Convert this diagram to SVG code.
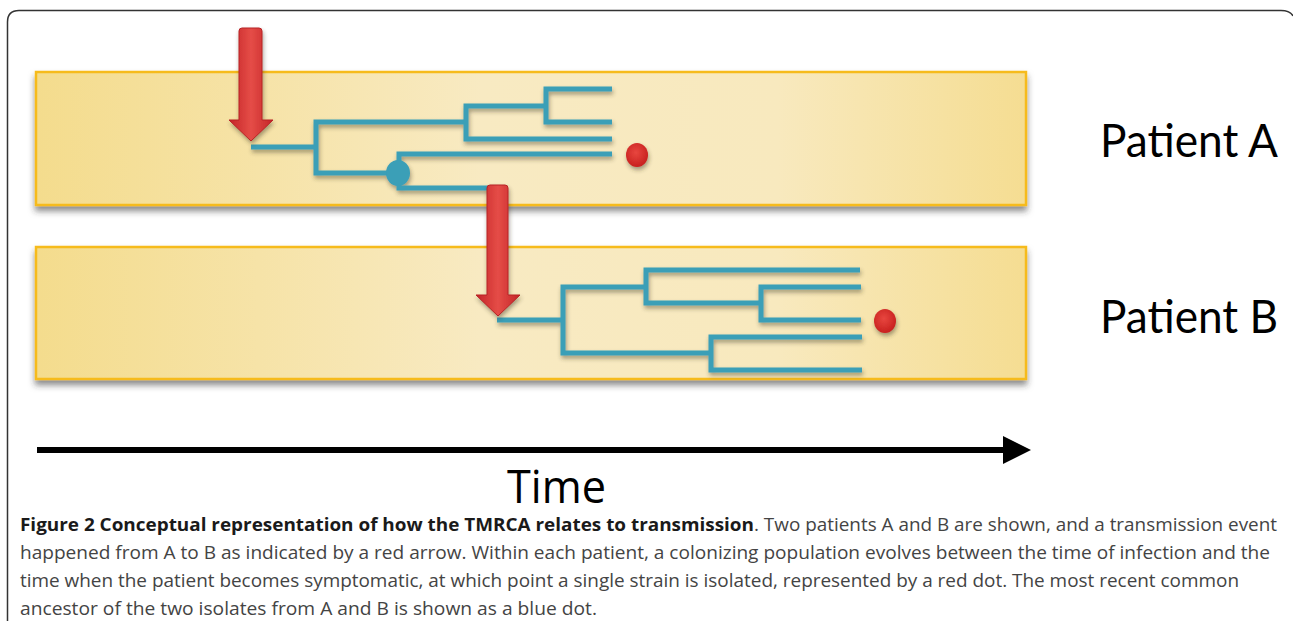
<svg xmlns="http://www.w3.org/2000/svg" width="1293" height="621" viewBox="0 0 1293 621">
  <defs>
    <linearGradient id="boxFill" x1="0" y1="0" x2="1" y2="0">
      <stop offset="0" stop-color="#F4DC8D"/>
      <stop offset="0.45" stop-color="#F8EAC2"/>
      <stop offset="0.75" stop-color="#F8E9BE"/>
      <stop offset="1" stop-color="#F5DD92"/>
    </linearGradient>
    <linearGradient id="arrowFill" x1="0" y1="0" x2="1" y2="0">
      <stop offset="0" stop-color="#C42428"/>
      <stop offset="0.5" stop-color="#E54D47"/>
      <stop offset="1" stop-color="#C42428"/>
    </linearGradient>
    <filter id="boxShadow" x="-5%" y="-20%" width="110%" height="150%">
      <feDropShadow dx="0" dy="5" stdDeviation="3" flood-color="#333" flood-opacity="0.55"/>
    </filter>
    <filter id="lineShadow" x="-10%" y="-30%" width="120%" height="160%">
      <feDropShadow dx="1" dy="3" stdDeviation="2" flood-color="#3a3020" flood-opacity="0.45"/>
    </filter>
    <radialGradient id="redDot" cx="0.45" cy="0.4" r="0.6">
      <stop offset="0" stop-color="#E8463F"/>
      <stop offset="1" stop-color="#C8211F"/>
    </radialGradient>
  </defs>
  <style>
    .box { fill: url(#boxFill); stroke: #F6BB1A; stroke-width: 2.5; filter: url(#boxShadow); }
    .tree { fill: none; stroke: #3A9FB7; stroke-width: 5; stroke-linecap: butt; stroke-linejoin: miter; }
    .arrow { fill: url(#arrowFill); stroke: #B82226; stroke-width: 1; filter: url(#lineShadow); }
    .label { font-family: "Lato", "Noto Sans", sans-serif; font-size: 46px; fill: #000; }
    .cap { font-family: "Open Sans", "Noto Sans", sans-serif; font-size: 18px; fill: #444; }
    .capb { font-family: "Open Sans", "Noto Sans", sans-serif; font-size: 18px; font-weight: bold; fill: #1a1a1a; }
  </style>

  <path id="frame" d="M7.5,621 V22 Q7.5,10.5 19,10.5 H1281 Q1290,10.5 1293,16" fill="none" stroke="#333" stroke-width="1.5"/>

  <g id="patientA">
    <rect class="box" x="36" y="72" width="990" height="133"/>
    <text class="label" x="1100" y="157" textLength="178" lengthAdjust="spacingAndGlyphs">Patient A</text>
  </g>
  <g id="patientB">
    <rect class="box" x="36" y="247" width="990" height="132"/>
    <text class="label" x="1100" y="333" textLength="178" lengthAdjust="spacingAndGlyphs">Patient B</text>
  </g>

  <g id="treeA" filter="url(#lineShadow)">
    <path class="tree" d="M251,147 H316"/>
    <path class="tree" d="M466,122 H316 V173 H399"/>
    <path class="tree" d="M546,106 H466 V139 H612"/>
    <path class="tree" d="M612,89 H546 V122 H612"/>
    <path class="tree" d="M612,154 H399 V188 H498"/>
    <ellipse id="mrca" cx="398" cy="173" rx="12" ry="13" fill="#3A9FB7"/>
    <ellipse id="isolateA" cx="637" cy="155" rx="11" ry="12" fill="url(#redDot)"/>
  </g>

  <g id="treeB" filter="url(#lineShadow)">
    <path class="tree" d="M497,320 H563"/>
    <path class="tree" d="M646,287 H563 V353 H711"/>
    <path class="tree" d="M860,270 H646 V303 H761"/>
    <path class="tree" d="M861,287 H761 V320 H861"/>
    <path class="tree" d="M862,337 H711 V370 H862"/>
    <ellipse id="isolateB" cx="885" cy="321" rx="11" ry="12" fill="url(#redDot)"/>
  </g>

  <g id="connectors">
    <path id="infectionArrow" class="arrow" d="M239,31 Q239,28 242,28 H259 Q262,28 262,31 V120 H273 L251,141 L229,120 H239 Z"/>
    <path id="transmissionArrow" class="arrow" d="M487,188 Q487,185 490,185 H505 Q508,185 508,188 V295 H520 L498,316 L476,295 H487 Z"/>
    <g id="timeArrow">
      <path d="M37,450 H1006" stroke="#000" stroke-width="6" fill="none"/>
      <polygon points="1003,436 1031,450 1003,464" fill="#000"/>
    </g>
  </g>

  <text id="timeLabel" x="507" y="503" font-family="Open Sans, Noto Sans, sans-serif" font-size="46" fill="#000" textLength="99" lengthAdjust="spacingAndGlyphs">Time</text>

  <g id="caption">
    <text class="capb" x="20" y="531" textLength="734" lengthAdjust="spacingAndGlyphs">Figure 2 Conceptual representation of how the TMRCA relates to transmission</text>
    <text class="cap" x="754" y="531" textLength="523" lengthAdjust="spacingAndGlyphs">. Two patients A and B are shown, and a transmission event</text>
    <text class="cap" x="20" y="559" textLength="1250" lengthAdjust="spacingAndGlyphs">happened from A to B as indicated by a red arrow. Within each patient, a colonizing population evolves between the time of infection and the</text>
    <text class="cap" x="20" y="587" textLength="1219" lengthAdjust="spacingAndGlyphs">time when the patient becomes symptomatic, at which point a single strain is isolated, represented by a red dot. The most recent common</text>
    <text class="cap" x="20" y="615" textLength="577" lengthAdjust="spacingAndGlyphs">ancestor of the two isolates from A and B is shown as a blue dot.</text>
  </g>
</svg>
